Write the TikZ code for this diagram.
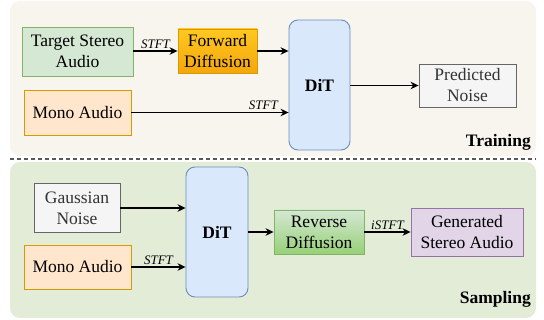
\documentclass[tikz,border=0pt]{standalone}
\usepackage{fontspec}
\setmainfont{Liberation Serif}
\usetikzlibrary{arrows.meta}

\definecolor{trainbg}{HTML}{F8F5EE}
\definecolor{samplebg}{HTML}{E2ECD6}
\definecolor{greenfill}{HTML}{D5E8D4}
\definecolor{greendark}{HTML}{97D077}
\definecolor{greenline}{HTML}{82B366}
\definecolor{orangefill}{HTML}{FFE6CC}
\definecolor{orangetop}{HTML}{FFC822}
\definecolor{orangebot}{HTML}{F5A60C}
\definecolor{orangeline}{HTML}{D79B00}
\definecolor{bluefill}{HTML}{DAE8FC}
\definecolor{blueline}{HTML}{6C8EBF}
\definecolor{grayfill}{HTML}{F5F5F5}
\definecolor{grayline}{HTML}{666666}
\definecolor{purplefill}{HTML}{E1D5E7}
\definecolor{purpleline}{HTML}{9673A6}

\begin{document}
\begin{tikzpicture}[x=1pt, y=-1pt,
        box/.style={draw, line width=0.9pt, align=center, inner sep=0pt, font=\fontsize{17.5}{21}\selectfont},
        dit/.style={box, rounded corners=9pt, fill=bluefill, draw=blueline, minimum width=61pt, minimum height=130pt, font=\fontsize{17.5}{21}\selectfont\bfseries},
        arr/.style={-{Stealth[length=8pt, width=7.5pt]}, line width=1.1pt},
        tag/.style={font=\fontsize{13}{15}\selectfont\itshape, above, inner sep=2pt},
        phase/.style={font=\fontsize{17.5}{21}\selectfont\bfseries, anchor=base east, inner sep=0pt}
    ]
        \useasboundingbox (0,0) rectangle (544,320);

        % Background panels and separator
        \fill[trainbg, rounded corners=10pt] (10,1) rectangle (536,156);
        \fill[samplebg, rounded corners=10pt] (10,162) rectangle (536,318);
        \draw[gray!70!black, line width=2pt, dash pattern=on 4pt off 3pt] (10,159) -- (536,159);

        % Training
        \node[box, fill=greenfill, draw=greenline, minimum width=111pt, minimum height=49pt] (target) at (77.5,51.5) {Target Stereo\\Audio};
        \node[box, top color=orangetop, bottom color=orangebot, draw=orangeline, minimum width=79pt, minimum height=44pt] (forward) at (217.5,51) {Forward\\Diffusion};
        \node[box, fill=orangefill, draw=orangeline, minimum width=107pt, minimum height=45pt] (mono1) at (77.5,112.5) {Mono Audio};
        \node[dit] (dit1) at (319.5,85) {DiT};
        \node[box, fill=grayfill, draw=grayline, text=black!80, minimum width=97pt, minimum height=43pt] (pred) at (467.5,85.5) {Predicted\\Noise};
        \node[phase] (training) at (531,147) {Training};

        \draw[arr] (target.east |- forward) -- (forward.west) node[tag, midway] {STFT};
        \draw[arr] (forward.east) -- (forward.east -| dit1.west);
        \draw[arr] (mono1.east) -- (mono1.east -| dit1.west) node[tag, pos=0.84] {STFT};
        \draw[arr] (dit1.east |- pred) -- (pred.west);

        % Sampling
        \node[box, fill=grayfill, draw=grayline, text=black!80, minimum width=86pt, minimum height=49pt] (gauss) at (77,208) {Gaussian\\Noise};
        \node[box, fill=orangefill, draw=orangeline, minimum width=107pt, minimum height=44pt] (mono2) at (77.5,267) {Mono Audio};
        \node[dit, minimum width=62pt] (dit2) at (217,232) {DiT};
        \node[box, top color=greenfill, bottom color=greendark, draw=greenline, minimum width=90pt, minimum height=44pt] (reverse) at (319,232) {Reverse\\Diffusion};
        \node[box, fill=purplefill, draw=purpleline, minimum width=112pt, minimum height=48pt] (gen) at (467,232) {Generated\\Stereo Audio};
        \node[phase] (sampling) at (531,304) {Sampling};

        \draw[arr] (gauss.east) -- (gauss.east -| dit2.west);
        \draw[arr] (mono2.east) -- (mono2.east -| dit2.west) node[tag, midway] {STFT};
        \draw[arr] (dit2.east |- reverse) -- (reverse.west);
        \draw[arr] (reverse.east) -- (gen.west) node[tag, midway] {iSTFT};

    \end{tikzpicture}
\end{document}
